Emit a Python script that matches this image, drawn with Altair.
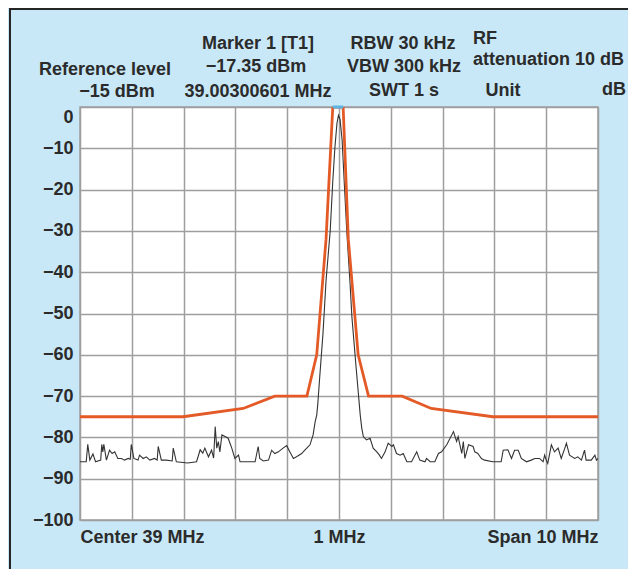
import altair as alt
import pandas as pd

# Spectrum trace: frequency offset from centre (MHz) and level (dB)
trace_offset = [-5.00, -4.88, -4.85, -4.81, -4.75, -4.70, -4.60, -4.58, -4.56, -4.54, -4.49, -4.43, -4.38, -4.33,
                -4.27, -4.20, -4.14, -4.07, -4.03, -4.01, -3.96, -3.88, -3.85, -3.78, -3.72, -3.65, -3.56, -3.51,
                -3.49, -3.43, -3.33, -3.22, -3.20, -3.14, -2.92, -2.75, -2.68, -2.63, -2.59, -2.52, -2.46, -2.42,
                -2.39, -2.36, -2.33, -2.30, -2.26, -2.20, -2.14, -2.07, -2.01, -1.94, -1.91, -1.62, -1.56, -1.53,
                -1.46, -1.36, -1.30, -1.24, -1.17, -1.08, -1.01, -0.95, -0.88, -0.82, -0.72, -0.66, -0.56, -0.50,
                -0.46, -0.43, -0.41, -0.37, -0.31, -0.25, -0.17, -0.12, -0.08, -0.04, -0.01, 0.02, 0.06, 0.10,
                0.15, 0.21, 0.25, 0.33, 0.41, 0.44, 0.47, 0.53, 0.60, 0.66, 0.73, 0.78, 0.82, 0.89, 0.95, 1.02,
                1.05, 1.11, 1.18, 1.24, 1.31, 1.40, 1.50, 1.56, 1.66, 1.69, 1.76, 1.85, 1.92, 1.98, 2.08, 2.21,
                2.27, 2.30, 2.37, 2.40, 2.43, 2.50, 2.59, 2.62, 2.68, 2.75, 2.81, 2.97, 3.13, 3.17, 3.26, 3.33,
                3.39, 3.46, 3.52, 3.62, 3.71, 3.78, 3.87, 3.94, 3.97, 4.00, 4.03, 4.10, 4.16, 4.23, 4.29, 4.36,
                4.39, 4.45, 4.55, 4.61, 4.68, 4.74, 4.77, 4.87, 4.94, 4.97, 5.00]
trace_level = [-85.9, -85.9, -81.7, -85.5, -84.0, -85.9, -85.5, -81.7, -83.5, -81.7, -85.5, -83.1, -83.9, -83.5,
               -85.1, -85.1, -85.5, -85.1, -85.3, -81.7, -85.1, -85.5, -84.3, -85.1, -84.7, -85.5, -85.1, -85.5,
               -82.2, -85.5, -85.5, -85.7, -82.6, -85.9, -86.2, -85.9, -83.0, -83.8, -82.6, -84.7, -83.1, -85.0,
               -77.4, -82.6, -81.0, -83.5, -79.4, -79.8, -80.2, -82.6, -85.1, -84.3, -85.9, -85.9, -82.2, -85.1,
               -85.7, -85.5, -83.1, -83.9, -83.5, -82.6, -82.0, -83.5, -85.1, -84.7, -83.9, -83.1, -81.8, -79.4,
               -76.2, -74.6, -72.0, -65.0, -55.0, -42.0, -30.0, -18.0, -10.0, -4.0, -2.0, -3.0, -8.0, -18.0,
               -30.0, -42.0, -51.0, -63.0, -74.6, -77.8, -79.8, -80.6, -80.2, -82.6, -83.5, -84.3, -85.1, -83.5,
               -81.4, -82.2, -81.8, -83.9, -84.3, -83.9, -85.9, -85.9, -83.5, -85.5, -85.9, -85.1, -85.9, -85.9,
               -83.9, -83.5, -81.8, -78.6, -81.0, -79.8, -83.9, -81.0, -85.1, -81.8, -82.2, -83.5, -83.9, -85.1,
               -85.5, -85.9, -85.9, -83.1, -83.0, -85.1, -83.1, -83.1, -85.1, -85.9, -85.5, -85.1, -85.1, -85.9,
               -84.3, -85.5, -86.3, -81.8, -83.5, -82.6, -85.1, -82.6, -81.4, -84.3, -85.1, -84.7, -85.5, -83.1,
               -85.5, -85.5, -84.3, -85.5, -85.1]

# Limit mask (orange)
mask_offset = [-5.0, -3.01, -1.85, -1.24, -0.62, -0.43, -0.25, -0.12, 0.08, 0.18, 0.37, 0.57, 1.22, 1.78, 2.97, 5.0]
mask_level = [-75, -75, -73, -70, -70, -60, -32, 0, 0, -32, -60, -70, -70, -73, -75, -75]

# Marker box at the top of the peak
marker_span = [-0.12, 0.08]

x_ticks = [-5, -4, -3, -2, -1, 0, 1, 2, 3, 4, 5]
y_ticks = [0, -10, -20, -30, -40, -50, -60, -70, -80, -90, -100]
x_label_text = ["Center 39 MHz", "1 MHz", "Span 10 MHz"]

header_texts = ["Marker 1 [T1]", "Reference level", "\u221217.35 dBm", "\u221215 dBm", "39.00300601 MHz",
                "RBW 30 kHz", "VBW 300 kHz", "SWT 1 s", "RF", "attenuation 10 dB", "Unit", "dB"]

FONT = "Liberation Sans"
TXT = "#2b2b2b"
GRID = "#9e9e9e"

trace_df = pd.DataFrame({"f": trace_offset, "db": trace_level, "i": list(range(len(trace_offset)))})
mask_df = pd.DataFrame({"f": mask_offset, "db": mask_level, "i": list(range(len(mask_offset)))})

label_expr = ("datum.value == -5 ? '%s' : datum.value == 0 ? '%s' : datum.value == 5 ? '%s' : ''"
              % tuple(x_label_text))

x_enc = alt.X("f:Q", scale=alt.Scale(domain=[-5, 5], nice=False, zero=False),
              axis=alt.Axis(values=x_ticks, labelExpr=label_expr, labelFlush=True, labelOverlap=False,
                            ticks=False, domain=False, title=None, grid=True, gridColor=GRID, gridWidth=1.5,
                            labelFont=FONT, labelFontSize=18, labelFontWeight="bold", labelColor=TXT,
                            labelPadding=8))
y_enc = alt.Y("db:Q", scale=alt.Scale(domain=[-100, 0], nice=False, zero=False),
              axis=alt.Axis(values=y_ticks, labelFlush=False, labelOverlap=False, ticks=False, domain=False,
                            labelOffset={"condition": {"test": "datum.value == 0", "value": 10}, "value": 0},
                            title=None, grid=True, gridColor=GRID, gridWidth=1.5, labelFont=FONT,
                            labelFontSize=18, labelFontWeight="bold", labelColor=TXT, labelPadding=7))

trace = alt.Chart(trace_df).mark_line(color="#333333", strokeWidth=1.1, clip=True).encode(
    x=x_enc, y=y_enc, order="i:Q")
mask = alt.Chart(mask_df).mark_line(color="#e35a27", strokeWidth=2.8, clip=True).encode(
    x="f:Q", y="db:Q", order="i:Q")
marker = alt.Chart(alt.Data(values=[{}])).mark_rule(color="#5bb5e3", strokeWidth=3).encode(
    x=alt.datum(marker_span[0]), x2=alt.datum(marker_span[1]), y=alt.datum(0))

one = alt.Data(values=[{}])


def txt(i, x, y, align="center"):
    return alt.Chart(one).mark_text(font=FONT, fontSize=18, fontWeight="bold", color=TXT,
                                    align=align, baseline="middle").encode(
        x=alt.value(x), y=alt.value(y), text=alt.value(header_texts[i]))


texts = [
    txt(0, 178, -63), txt(1, 25, -37), txt(2, 176, -40), txt(3, 37, -15), txt(4, 178, -15),
    txt(5, 323, -63), txt(6, 324, -40), txt(7, 324, -16), txt(8, 393, -68, "left"),
    txt(9, 393, -47, "left"), txt(10, 423, -16), txt(11, 546, -17, "right"),
]

border_left = alt.Chart(one).mark_rule(color="#262626", strokeWidth=2).encode(
    x=alt.value(-70), y=alt.value(-99), y2=alt.value(462))
border_top = alt.Chart(one).mark_rule(color="#262626", strokeWidth=2).encode(
    x=alt.value(-71), x2=alt.value(548), y=alt.value(-98))

chart = alt.layer(trace, mask, marker, border_left, border_top, *texts).properties(
    width=518, height=413, background="#c8e8f8",
    autosize=alt.AutoSizeParams(type="none"),
    padding={"left": 72, "top": 99, "right": 30, "bottom": 49},
).configure_view(fill="white", stroke=GRID, strokeWidth=1.5)

chart.save("out.html", embed_options={"renderer": "svg", "actions": False})
